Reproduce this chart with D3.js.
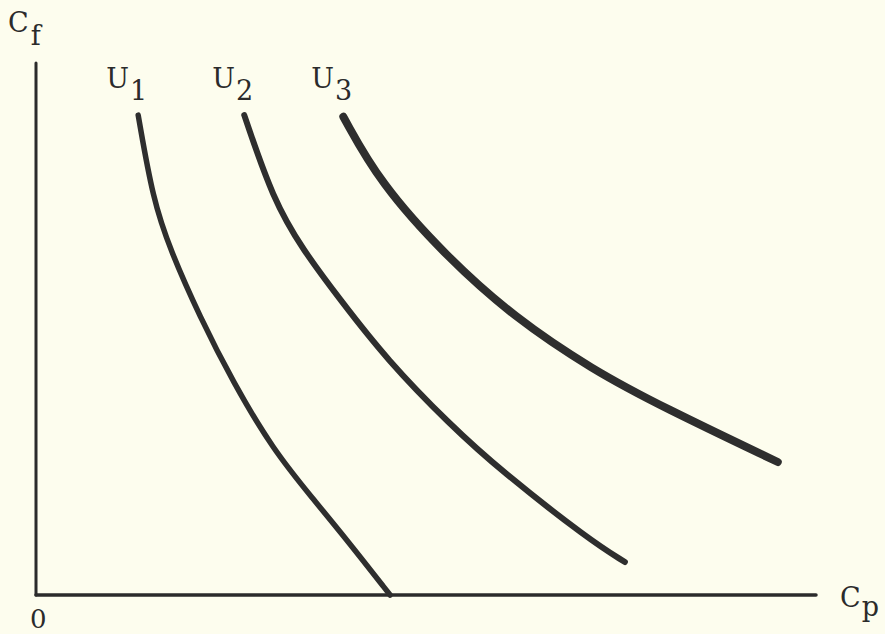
<!DOCTYPE html>
<html>
<head>
<meta charset="utf-8">
<script src="https://cdn.jsdelivr.net/npm/d3@7"></script>
<style>
  html, body { margin: 0; padding: 0; background: #fdfdee; }
  text { font-family: "DejaVu Serif", "Liberation Serif", serif; fill: #2b2b2b; }
</style>
</head>
<body>
<div id="viz"></div>
<script>
// indifference curves (x = Cp, y = Cf, 0..100)
var curveNames = ['U', 'U', 'U'];
var curveSubs = ['1', '2', '3'];
var u1 = [[13.1, 90.2], [15.0, 74.3], [17.2, 64.9], [21.0, 52.3], [25.3, 39.9], [30.4, 27.3], [35.5, 18.1], [39.9, 10.3], [45.4, 0]];
var u2 = [[26.7, 90.2], [30.4, 74.3], [34.2, 64.9], [39.0, 55.5], [45.0, 44.2], [53.1, 32.0], [59.5, 23.5], [71.0, 10.3], [75.5, 6.2]];
var u3 = [[39.4, 89.9], [44.1, 77.4], [52.7, 63.5], [61.2, 52.3], [71.4, 42.3], [80.4, 35.3], [95.1, 25.0]];
var curves = [u1, u2, u3];
var widths = [5.5, 6, 8];

var width = 885, height = 634;

var svg = d3.select('#viz')
  .append('svg')
  .attr('width', width)
  .attr('height', height);

svg.append('rect')
  .attr('width', width)
  .attr('height', height)
  .attr('fill', '#fdfdee');

var x = d3.scaleLinear().domain([0, 100]).range([36, 816]);
var y = d3.scaleLinear().domain([0, 100]).range([595, 63]);

// axes
svg.append('line')
  .attr('x1', x(0)).attr('y1', y(100))
  .attr('x2', x(0)).attr('y2', y(0))
  .attr('stroke', '#2b2b2b')
  .attr('stroke-width', 3)
  .attr('stroke-linecap', 'round');

svg.append('line')
  .attr('x1', x(0)).attr('y1', y(0))
  .attr('x2', x(100)).attr('y2', y(0))
  .attr('stroke', '#2b2b2b')
  .attr('stroke-width', 3.5)
  .attr('stroke-linecap', 'round');

// basis spline smooths out the reading noise, still hits both ends
var line = d3.line()
  .x(function(d) { return x(d[0]); })
  .y(function(d) { return y(d[1]); })
  .curve(d3.curveBasis);

svg.selectAll('.curve')
  .data(curves)
  .enter().append('path')
  .attr('class', 'curve')
  .attr('d', line)
  .attr('fill', 'none')
  .attr('stroke', '#2e2e2e')
  .attr('stroke-width', function(d, i) { return widths[i]; })
  .attr('stroke-linecap', 'round');

// curve labels
var labels = svg.selectAll('.lab')
  .data(curves)
  .enter().append('text')
  .attr('class', 'lab')
  .attr('x', function(d) { return x(d[0][0]) - 32; })
  .attr('y', 88)
  .style('font-size', '27px');

labels.append('tspan').text(function(d, i) { return curveNames[i]; });
labels.append('tspan')
  .attr('dy', 12)
  .attr('dx', 1)
  .text(function(d, i) { return curveSubs[i]; });

// axis labels
var cf = svg.append('text')
  .attr('x', 8).attr('y', 32)
  .style('font-size', '27px');
cf.append('tspan').text('C');
cf.append('tspan').attr('dy', 13).attr('dx', 2).text('f');

var cp = svg.append('text')
  .attr('x', 840).attr('y', 607)
  .style('font-size', '27px');
cp.append('tspan').text('C');
cp.append('tspan').attr('dy', 9).attr('dx', 1).text('p');

svg.append('text')
  .attr('x', 30).attr('y', 628)
  .style('font-size', '26px')
  .text('0');
</script>
</body>
</html>
